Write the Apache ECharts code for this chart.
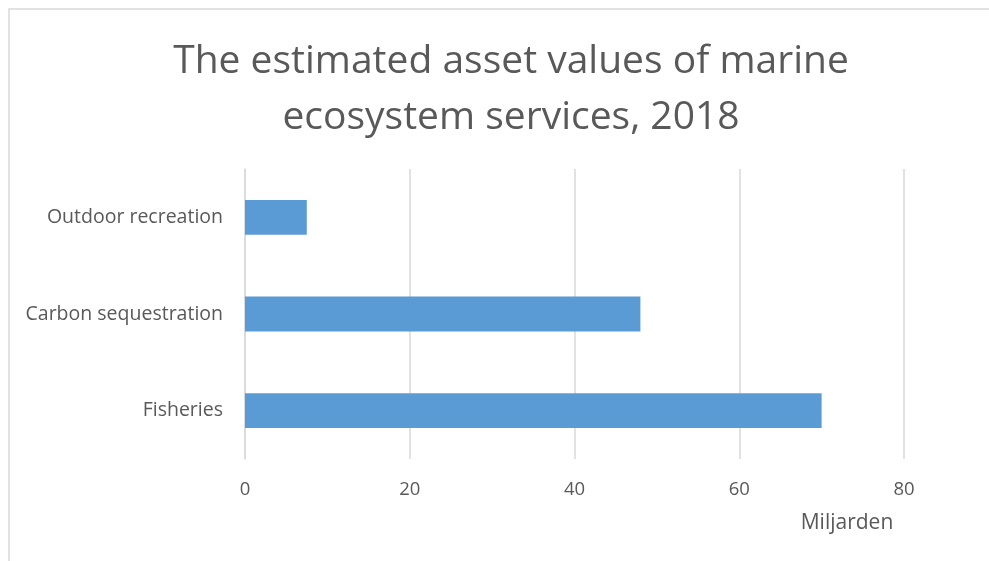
<!DOCTYPE html>
<html>
<head>
<meta charset="utf-8">
<style>
  html, body { margin: 0; padding: 0; background: #ffffff; }
  #chart { width: 989px; height: 561px; }
</style>
<script src="https://cdn.jsdelivr.net/npm/echarts@6/dist/echarts.min.js"></script>
</head>
<body>
<div id="chart"></div>
<script>
// Categories, listed bottom to top
const categories = ['Fisheries', 'Carbon sequestration', 'Outdoor recreation'];
// Asset values in billions (Miljarden)
const assetValues = [70, 48, 7.5];
const xTicks = [0, 20, 40, 60, 80];

const FONT = '"Open Sans", sans-serif';
const TEXT = '#595959';

const chart = echarts.init(document.getElementById('chart'), null, { renderer: 'canvas' });

chart.setOption({
  backgroundColor: '#ffffff',
  animation: false,
  title: {
    text: 'The estimated asset values of marine\necosystem services, 2018',
    left: 506,
    textAlign: 'center',
    top: 29,
    textStyle: {
      fontFamily: FONT,
      fontSize: 39,
      fontWeight: 'normal',
      color: TEXT,
      lineHeight: 56
    }
  },
  graphic: [{
    type: 'rect',
    shape: { x: 9, y: 9, width: 1000, height: 600 },
    style: { fill: 'none', stroke: '#d9d9d9', lineWidth: 1.5 },
    silent: true
  }],
  grid: {
    left: 245,
    right: 85,
    top: 169,
    bottom: 102,
    containLabel: false
  },
  xAxis: {
    type: 'value',
    min: xTicks[0],
    max: xTicks[xTicks.length - 1],
    interval: 20,
    name: 'Miljarden',
    nameLocation: 'end',
    nameGap: 0,
    nameTextStyle: {
      fontFamily: FONT,
      fontSize: 21,
      color: TEXT,
      align: 'center',
      verticalAlign: 'top',
      padding: [54, 0, 0, -114]
    },
    axisLine: { show: false },
    axisTick: { show: false },
    axisLabel: {
      fontFamily: FONT,
      fontSize: 18.5,
      color: TEXT,
      margin: 21
    },
    splitLine: { show: true, lineStyle: { color: '#d9d9d9', width: 1.5 } }
  },
  yAxis: {
    type: 'category',
    data: categories,
    axisLine: { show: true, lineStyle: { color: '#d9d9d9', width: 1.5 } },
    axisTick: { show: false },
    axisLabel: {
      fontFamily: FONT,
      fontSize: 19.5,
      color: TEXT,
      margin: 22,
      padding: [4, 0, 0, 0]
    }
  },
  series: [{
    type: 'bar',
    data: assetValues,
    barWidth: '36%',
    itemStyle: { color: '#5b9bd5' }
  }]
});
</script>
</body>
</html>
